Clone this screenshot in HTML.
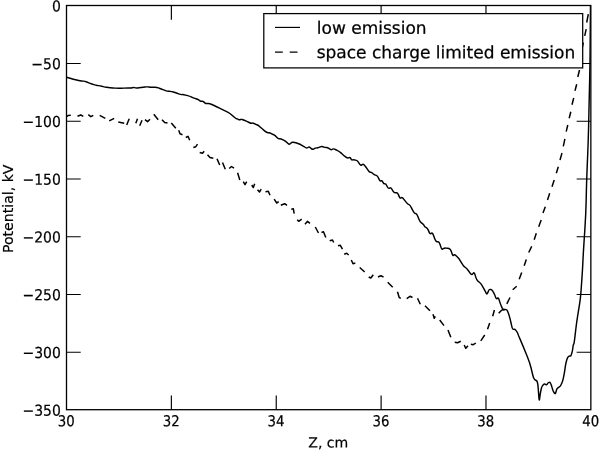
<!DOCTYPE html>
<html><head><meta charset="utf-8"><title>Potential</title>
<style>
html,body{margin:0;padding:0;background:#fff;}
body{width:600px;height:450px;overflow:hidden;}
svg{display:block;}
text{font-family:"DejaVu Sans","Liberation Sans",sans-serif;fill:#000;}
.t{font-size:13.3px;stroke:#000;stroke-width:0.2px;}
.a{font-size:14.1px;stroke:#000;stroke-width:0.2px;}
.l{font-size:17px;stroke:#000;stroke-width:0.25px;}
</style></head><body>
<svg width="600" height="450" viewBox="0 0 600 450">
<defs><clipPath id="c"><rect x="66.5" y="5.5" width="524.35" height="404.2"/></clipPath></defs>
<rect width="600" height="450" fill="#fff"/>
<rect x="66.5" y="5.5" width="524.35" height="404.2" fill="#fff" stroke="none"/>
<g clip-path="url(#c)"><path d="M66.50,77.20 L70.92,78.50 Q73.30,79.20 75.64,79.76 L77.66,80.24 Q80.00,80.80 81.75,80.97 L83.25,81.12 Q85.00,81.30 86.75,82.00 L88.25,82.60 Q90.00,83.30 92.03,84.00 L93.77,84.60 Q95.80,85.30 97.27,85.47 L98.53,85.62 Q100.00,85.80 101.75,86.22 L103.25,86.58 Q105.00,87.00 106.75,87.28 L108.25,87.52 Q110.00,87.80 112.91,87.97 L115.39,88.12 Q118.30,88.30 121.24,88.19 L123.76,88.11 Q126.70,88.00 128.45,88.00 L129.95,88.00 Q131.70,88.00 132.26,87.75 L132.74,87.55 Q133.30,87.30 134.49,87.61 L135.51,87.89 Q136.70,88.20 139.01,87.78 L140.99,87.42 Q143.30,87.00 145.05,86.93 L146.55,86.87 Q148.30,86.80 149.18,87.01 L149.93,87.19 Q150.80,87.40 152.87,87.33 L154.63,87.27 Q156.70,87.20 158.45,87.90 L159.95,88.50 Q161.70,89.20 163.73,89.94 L165.47,90.56 Q167.50,91.30 168.38,91.27 L169.12,91.23 Q170.00,91.20 171.75,91.66 L173.25,92.05 Q175.00,92.50 177.03,93.27 L178.77,93.93 Q180.80,94.70 181.68,94.63 L182.43,94.57 Q183.30,94.50 185.65,95.13 L187.66,95.67 Q190.00,96.30 191.16,96.89 L192.15,97.41 Q193.30,98.00 194.77,98.42 L196.03,98.78 Q197.50,99.20 198.66,99.94 L199.65,100.56 Q200.80,101.30 201.57,101.30 L202.23,101.30 Q203.00,101.30 203.98,102.14 L204.82,102.86 Q205.80,103.70 206.99,103.56 L208.01,103.44 Q209.20,103.30 211.82,104.49 L214.07,105.51 Q216.70,106.70 219.01,107.86 L220.99,108.84 Q223.30,110.00 225.65,111.16 L227.66,112.14 Q230.00,113.30 232.03,115.19 L233.77,116.81 Q235.80,118.70 236.40,118.73 L236.91,118.77 Q237.50,118.80 238.09,119.22 L238.60,119.58 Q239.20,120.00 239.94,119.75 L240.56,119.55 Q241.30,119.30 241.72,119.37 L242.08,119.43 Q242.50,119.50 244.25,120.27 L245.75,120.93 Q247.50,121.70 248.66,122.26 L249.65,122.74 Q250.80,123.30 251.68,123.19 L252.43,123.11 Q253.30,123.00 254.18,123.53 L254.93,123.97 Q255.80,124.50 256.68,124.78 L257.43,125.02 Q258.30,125.30 259.77,126.66 L261.03,127.83 Q262.50,129.20 263.97,130.35 L265.23,131.34 Q266.70,132.50 267.86,132.68 L268.84,132.82 Q270.00,133.00 271.75,133.81 L273.25,134.50 Q275.00,135.30 276.05,136.49 L276.95,137.51 Q278.00,138.70 278.98,138.70 L279.82,138.70 Q280.80,138.70 282.55,139.61 L284.05,140.39 Q285.80,141.30 286.99,142.49 L288.01,143.51 Q289.20,144.70 290.18,143.75 L291.02,142.94 Q292.00,142.00 293.33,142.28 L294.47,142.52 Q295.80,142.80 297.27,143.29 L298.53,143.71 Q300.00,144.20 301.47,145.07 L302.73,145.82 Q304.20,146.70 305.07,147.26 L305.82,147.74 Q306.70,148.30 307.57,147.74 L308.32,147.26 Q309.20,146.70 310.36,147.75 L311.34,148.65 Q312.50,149.70 313.66,149.03 L314.64,148.47 Q315.80,147.80 316.39,147.87 L316.91,147.93 Q317.50,148.00 318.97,147.41 L320.23,146.90 Q321.70,146.30 322.86,146.72 L323.84,147.08 Q325.00,147.50 325.88,147.50 L326.62,147.50 Q327.50,147.50 328.83,148.38 L329.97,149.12 Q331.30,150.00 332.00,149.47 L332.60,149.03 Q333.30,148.50 335.37,149.48 L337.13,150.32 Q339.20,151.30 340.95,152.88 L342.45,154.23 Q344.20,155.80 345.36,156.68 L346.34,157.43 Q347.50,158.30 348.38,157.95 L349.12,157.65 Q350.00,157.30 350.59,158.25 L351.11,159.06 Q351.70,160.00 352.57,159.89 L353.32,159.81 Q354.20,159.70 355.36,160.09 L356.34,160.41 Q357.50,160.80 358.66,162.55 L359.64,164.05 Q360.80,165.80 361.57,165.10 L362.23,164.50 Q363.00,163.80 363.98,164.81 L364.82,165.69 Q365.80,166.70 366.99,168.55 L368.01,170.15 Q369.20,172.00 370.07,172.18 L370.82,172.32 Q371.70,172.50 372.57,173.27 L373.32,173.93 Q374.20,174.70 375.36,175.09 L376.34,175.41 Q377.50,175.80 378.38,177.73 L379.12,179.38 Q380.00,181.30 380.70,181.02 L381.30,180.78 Q382.00,180.50 382.59,181.62 L383.11,182.58 Q383.70,183.70 384.44,183.73 L385.06,183.77 Q385.80,183.80 386.68,185.52 L387.43,186.98 Q388.30,188.70 389.18,188.28 L389.93,187.92 Q390.80,187.50 391.99,189.43 L393.01,191.07 Q394.20,193.00 395.36,192.82 L396.34,192.68 Q397.50,192.50 398.38,194.60 L399.12,196.40 Q400.00,198.50 400.81,198.04 L401.50,197.66 Q402.30,197.20 404.12,199.58 L405.68,201.62 Q407.50,204.00 408.38,204.35 L409.12,204.65 Q410.00,205.00 411.47,207.91 L412.73,210.40 Q414.20,213.30 415.07,213.44 L415.82,213.56 Q416.70,213.70 417.86,216.50 L418.84,218.90 Q420.00,221.70 421.16,222.57 L422.14,223.32 Q423.30,224.20 423.89,225.18 L424.41,226.02 Q425.00,227.00 425.88,227.46 L426.62,227.84 Q427.50,228.30 428.38,230.37 L429.12,232.13 Q430.00,234.20 430.88,233.60 L431.62,233.09 Q432.50,232.50 433.66,235.72 L434.64,238.48 Q435.80,241.70 436.99,241.70 L438.01,241.70 Q439.20,241.70 440.07,244.50 L440.82,246.90 Q441.70,249.70 442.57,249.10 L443.32,248.59 Q444.20,248.00 445.95,248.11 L447.45,248.19 Q449.20,248.30 449.76,248.90 L450.24,249.41 Q450.80,250.00 451.50,252.03 L452.10,253.77 Q452.80,255.80 453.50,255.34 L454.10,254.96 Q454.80,254.50 456.34,256.00 L457.66,257.30 Q459.20,258.80 460.63,261.32 L461.87,263.48 Q463.30,266.00 464.49,266.81 L465.51,267.50 Q466.70,268.30 468.45,270.75 L469.95,272.85 Q471.70,275.30 472.57,274.14 L473.32,273.16 Q474.20,272.00 475.07,274.91 L475.82,277.39 Q476.70,280.30 478.13,281.35 L479.37,282.25 Q480.80,283.30 482.27,285.93 L483.53,288.18 Q485.00,290.80 485.70,292.17 L486.30,293.33 Q487.00,294.70 487.77,292.77 L488.43,291.12 Q489.20,289.20 490.07,289.38 L490.82,289.52 Q491.70,289.70 492.57,290.96 L493.32,292.04 Q494.20,293.30 494.94,295.37 L495.56,297.13 Q496.30,299.20 497.00,298.61 L497.60,298.09 Q498.30,297.50 499.18,300.12 L499.93,302.38 Q500.80,305.00 501.68,306.86 L502.43,308.44 Q503.30,310.30 504.18,309.95 L504.93,309.65 Q505.80,309.30 506.39,309.72 L506.91,310.08 Q507.50,310.50 508.38,313.23 L509.12,315.57 Q510.00,318.30 510.88,322.22 L511.62,325.58 Q512.50,329.50 513.38,329.39 L514.12,329.31 Q515.00,329.20 515.88,330.36 L516.62,331.34 Q517.50,332.50 517.78,333.38 L518.02,334.12 Q518.30,335.00 520.05,339.09 L521.55,342.61 Q523.30,346.70 525.64,352.51 L527.65,357.49 Q530.00,363.30 531.15,368.27 L532.14,372.53 Q533.30,377.50 533.89,378.38 L534.40,379.12 Q535.00,380.00 535.70,380.28 L536.30,380.52 Q537.00,380.80 537.35,382.27 L537.65,383.53 Q538.00,385.00 538.42,390.95 L538.78,396.05 Q539.20,402.00 539.59,398.95 L539.91,396.35 Q540.30,393.30 540.79,390.99 L541.21,389.01 Q541.70,386.70 542.58,385.65 L543.33,384.75 Q544.20,383.70 545.08,384.15 L545.83,384.55 Q546.70,385.00 547.26,384.12 L547.74,383.38 Q548.30,382.50 548.89,382.39 L549.40,382.31 Q550.00,382.20 550.45,383.18 L550.85,384.02 Q551.30,385.00 552.00,387.34 L552.60,389.36 Q553.30,391.70 554.00,392.57 L554.60,393.32 Q555.30,394.20 555.79,392.45 L556.21,390.95 Q556.70,389.20 557.26,388.61 L557.74,388.09 Q558.30,387.50 559.00,387.08 L559.60,386.72 Q560.30,386.30 561.07,384.69 L561.73,383.31 Q562.50,381.70 563.10,379.07 L563.61,376.82 Q564.20,374.20 564.76,370.38 L565.24,367.12 Q565.80,363.30 566.39,361.27 L566.90,359.53 Q567.50,357.50 568.10,356.91 L568.61,356.39 Q569.20,355.80 569.76,355.98 L570.24,356.12 Q570.80,356.30 571.39,354.38 L571.90,352.73 Q572.50,350.80 572.75,348.77 L572.96,347.03 Q573.20,345.00 573.55,344.41 L573.85,343.89 Q574.20,343.30 575.00,336.19 L575.70,330.11 Q576.50,323.00 577.62,316.11 L578.58,310.19 Q579.70,303.30 580.09,300.29 L580.41,297.71 Q580.80,294.70 581.39,286.06 L581.90,278.64 Q582.50,270.00 582.78,264.16 L583.02,259.14 Q583.30,253.30 584.17,239.90 L584.92,228.41 Q585.80,215.00 586.12,202.16 L586.38,191.15 Q586.70,178.30 587.26,164.90 L587.74,153.41 Q588.30,140.00 588.62,126.00 L588.88,114.00 Q589.20,100.00 589.48,87.75 L589.72,77.25 Q590.00,65.00 590.17,44.17 L590.50,5.50" fill="none" stroke="#000" stroke-width="1.45" stroke-linejoin="round"/>
<path d="M66.50,116.50 L68.00,115.60 L70.80,115.30 M77.50,116.30 L80.80,115.00 L83.30,116.30 M88.30,114.70 L90.80,116.70 L93.30,115.30 M99.70,115.30 L105.30,118.30 M109.20,120.80 L114.20,118.30 M118.30,122.00 L124.20,123.30 M126.70,125.00 L129.20,118.80 M135.80,123.30 L137.50,118.80 M139.70,125.80 L142.00,120.30 M145.00,119.70 L147.50,121.70 L150.00,119.20 M153.80,114.20 L158.20,119.80 M162.00,119.70 L164.70,122.50 L167.50,123.00 M171.30,123.00 L175.80,128.30 M178.70,130.30 L180.00,133.70 L182.50,134.70 M185.80,137.50 L188.00,136.30 L189.70,140.30 M193.30,147.50 L195.80,146.70 L197.50,144.20 M199.70,152.50 L202.50,153.30 L204.20,151.30 M207.50,154.70 L210.00,157.50 L213.30,158.30 M217.00,158.70 L219.70,165.00 M222.50,162.50 L225.30,169.20 M229.20,168.50 L231.50,166.50 L234.00,168.20 M237.60,172.80 L239.80,180.00 M243.30,181.70 L245.00,184.70 L246.70,181.70 M251.70,185.00 L253.30,187.50 L254.70,183.80 M257.50,189.70 L259.50,192.00 L261.20,189.20 M265.50,191.70 L268.30,191.30 L270.00,195.30 M274.20,199.20 L276.70,203.00 L278.70,201.70 M280.80,205.30 L284.70,203.70 L287.00,205.30 M291.30,209.20 L293.30,208.70 L294.20,213.70 M297.20,219.70 L298.70,221.30 L301.70,219.20 M305.00,224.20 L307.50,221.30 L310.00,223.30 M315.30,227.00 L318.50,233.00 M321.50,232.50 L323.50,231.80 L325.80,237.50 M329.70,240.80 L332.50,240.00 L333.70,242.50 M338.00,245.80 L340.30,245.30 L342.50,249.20 M344.20,254.20 L346.70,253.30 L348.70,255.00 M351.30,260.00 L353.00,263.70 L355.30,263.00 M359.70,267.50 L364.70,272.00 M368.70,277.00 L370.80,278.00 L373.30,274.70 M378.00,277.00 L380.80,275.80 L383.50,277.00 M387.70,282.20 L392.70,287.20 M397.50,291.70 L399.20,297.50 L400.80,298.30 M406.70,298.70 L410.00,296.30 L412.50,297.50 M417.50,298.30 L420.30,304.20 M425.00,305.80 L430.00,310.80 M433.00,314.20 L434.20,318.30 L435.30,316.30 M439.70,320.00 L444.00,325.60 M448.00,330.00 L450.80,337.30 M454.70,342.30 L457.50,342.70 L460.80,341.30 M464.20,345.00 L465.80,348.30 L468.00,345.80 M470.80,344.20 L473.30,344.70 L475.80,343.00 M480.80,340.80 L484.70,335.00 M487.50,329.20 L489.70,323.00 M492.70,316.30 L494.40,310.00 M498.70,313.30 L501.30,310.40 L504.60,309.00 M506.80,303.80 L510.00,297.50 M512.70,289.80 L516.70,286.30 M519.20,279.20 L521.70,272.50 M524.20,265.80 L526.30,259.40 M528.70,252.50 L531.70,246.30 M534.20,239.70 L536.30,233.30 M538.70,226.70 L541.20,220.00 M543.00,213.00 L545.30,206.70 M547.50,200.00 L549.70,193.30 M552.00,186.70 L554.20,180.00 M556.30,173.30 L558.30,166.70 M560.00,160.00 L562.00,153.00 M563.30,146.30 L564.90,138.80 M566.20,131.70 L567.80,125.00 M569.20,118.30 L570.80,111.70 M572.00,104.70 L573.70,98.00 M575.00,90.80 L576.70,84.20 M577.80,77.00 L579.50,70.00 M582.00,49.00 L583.30,42.50 M584.70,35.80 L586.20,29.20 M586.70,22.50 L588.30,14.20" fill="none" stroke="#000" stroke-width="1.5" stroke-linejoin="round"/></g>
<path d="M171.37,409.7 v-14.2 M171.37,5.5 v14.2 M276.24,409.7 v-14.2 M276.24,5.5 v14.2 M381.11,409.7 v-14.2 M381.11,5.5 v14.2 M485.98,409.7 v-14.2 M485.98,5.5 v14.2 M66.5,63.54 h14.2 M590.85,63.54 h-14.2 M66.5,121.29 h14.2 M590.85,121.29 h-14.2 M66.5,179.03 h14.2 M590.85,179.03 h-14.2 M66.5,236.77 h14.2 M590.85,236.77 h-14.2 M66.5,294.51 h14.2 M590.85,294.51 h-14.2 M66.5,352.26 h14.2 M590.85,352.26 h-14.2" stroke="#000" stroke-width="1.15" fill="none"/>
<rect x="66.5" y="5.5" width="524.35" height="404.2" fill="none" stroke="#000" stroke-width="1.3"/>
<text transform="translate(66.30,426.25) rotate(0.05) scale(1,1.13)" text-anchor="middle" class="t">30</text>
<text transform="translate(171.17,426.25) rotate(0.05) scale(1,1.13)" text-anchor="middle" class="t">32</text>
<text transform="translate(276.04,426.25) rotate(0.05) scale(1,1.13)" text-anchor="middle" class="t">34</text>
<text transform="translate(380.91,426.25) rotate(0.05) scale(1,1.13)" text-anchor="middle" class="t">36</text>
<text transform="translate(485.78,426.25) rotate(0.05) scale(1,1.13)" text-anchor="middle" class="t">38</text>
<text transform="translate(590.65,426.25) rotate(0.05) scale(1,1.13)" text-anchor="middle" class="t">40</text>
<text transform="translate(60.8,11.50) rotate(0.05) scale(1.05,1.135)" text-anchor="end" class="t">0</text>
<text transform="translate(60.8,69.24) rotate(0.05) scale(1.05,1.135)" text-anchor="end" class="t">−50</text>
<text transform="translate(60.8,126.99) rotate(0.05) scale(1.05,1.135)" text-anchor="end" class="t">−100</text>
<text transform="translate(60.8,184.73) rotate(0.05) scale(1.05,1.135)" text-anchor="end" class="t">−150</text>
<text transform="translate(60.8,242.47) rotate(0.05) scale(1.05,1.135)" text-anchor="end" class="t">−200</text>
<text transform="translate(60.8,300.21) rotate(0.05) scale(1.05,1.135)" text-anchor="end" class="t">−250</text>
<text transform="translate(60.8,357.96) rotate(0.05) scale(1.05,1.135)" text-anchor="end" class="t">−300</text>
<text transform="translate(60.8,415.70) rotate(0.05) scale(1.05,1.135)" text-anchor="end" class="t">−350</text>
<text transform="translate(328.3,447.4) rotate(0.05)" text-anchor="middle" class="a">Z, cm</text>
<text transform="translate(12.9,208.8) rotate(-90)" text-anchor="middle" class="a">Potential, kV</text>
<rect x="263.8" y="13.6" width="318.9" height="54.3" fill="#fff" stroke="#000" stroke-width="1.25"/>
<path d="M275,27.4 H300" stroke="#000" stroke-width="1.15"/>
<path d="M275,52.1 H300" stroke="#000" stroke-width="1.3" stroke-dasharray="7.8 6.9"/>
<text transform="translate(316.8,33.7) rotate(0.05)" class="l">low emission</text>
<text transform="translate(316.7,58.1) rotate(0.05)" class="l">space charge limited emission</text>
</svg>
</body></html>
